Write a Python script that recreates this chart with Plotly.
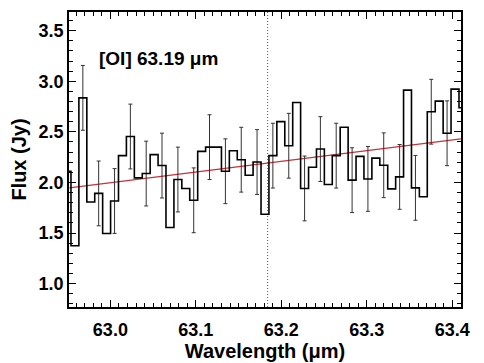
import plotly.graph_objects as go

# Bin centres (micron) of the spectrum
wavelength = [62.9493, 62.9585, 62.9678, 62.9771, 62.9863, 62.9956, 63.0049, 63.0141,
              63.0234, 63.0327, 63.0419, 63.0512, 63.0604, 63.0697, 63.0790, 63.0882,
              63.0975, 63.1068, 63.1160, 63.1253, 63.1346, 63.1438, 63.1531, 63.1623,
              63.1716, 63.1809, 63.1901, 63.1994, 63.2087, 63.2179, 63.2272, 63.2365,
              63.2457, 63.2550, 63.2642, 63.2735, 63.2828, 63.2920, 63.3013, 63.3106,
              63.3198, 63.3291, 63.3384, 63.3476, 63.3569, 63.3661, 63.3754, 63.3847,
              63.3939, 63.4032, 63.4125]
flux = [2.11, 1.375, 2.836, 1.807, 1.892, 1.496, 1.817, 2.265,
        2.454, 2.045, 2.088, 2.275, 2.167, 1.555, 2.029, 1.941,
        1.824, 2.307, 2.349, 2.349, 2.111, 2.314, 2.225, 2.072,
        2.202, 1.686, 2.265, 2.601, 2.363, 2.790, 1.941, 2.150,
        2.330, 1.980, 2.265, 2.545, 2.023, 2.258, 2.035, 2.241,
        2.170, 1.937, 2.055, 2.912, 1.947, 1.859, 2.699, 2.804,
        2.486, 2.922, 2.738]

# Error bars (shown on every other bin)
err_wavelength = [62.9678, 62.9863, 63.0049, 63.0234, 63.0419, 63.0604, 63.0790, 63.0975,
                  63.1160, 63.1346, 63.1531, 63.1716, 63.1901, 63.2087, 63.2272, 63.2457,
                  63.2642, 63.2828, 63.3013, 63.3198, 63.3384, 63.3569, 63.3754, 63.3939]
err_flux = [2.836, 1.892, 1.817, 2.454, 2.088, 2.167, 2.029, 1.824,
            2.349, 2.111, 2.225, 2.202, 2.265, 2.363, 1.941, 2.330,
            2.265, 2.023, 2.035, 2.170, 2.055, 1.947, 2.699, 2.486]
err_size = [0.32] * 24

# Continuum fit
fit_x = [62.952, 63.410]
fit_y = [1.947, 2.431]

line_center = 63.184

FONT = "Liberation Sans"

fig = go.Figure()
fig.add_trace(go.Scatter(x=fit_x, y=fit_y, mode="lines",
                         line=dict(color="#c8323a", width=1.4), showlegend=False))
fig.add_trace(go.Scatter(x=err_wavelength, y=err_flux, mode="markers",
                         marker=dict(size=0.1, color="rgba(0,0,0,0)"),
                         error_y=dict(type="data", array=err_size, visible=True,
                                      color="#333333", thickness=1, width=2),
                         showlegend=False))
fig.add_trace(go.Scatter(x=wavelength, y=flux, mode="lines", line_shape="hvh",
                         line=dict(color="black", width=1.6), showlegend=False))

fig.add_shape(type="line", x0=line_center, x1=line_center, xref="x", yref="paper",
              y0=0, y1=1, line=dict(color="#555555", width=1, dash="1px,2px"))

fig.add_annotation(x=0.071, y=0.842, xref="paper", yref="paper", xanchor="left",
                   yanchor="middle", showarrow=False,
                   text="[OI] 63.19 μm",
                   font=dict(family=FONT, size=19, color="black", weight="bold"))

axis_common = dict(showline=True, linecolor="black", linewidth=1.5, mirror="allticks",
                   ticks="inside", ticklen=7, tickwidth=1, tickcolor="black",
                   showgrid=False, zeroline=False,
                   tickfont=dict(family=FONT, size=18, color="black", weight="bold"))

fig.update_xaxes(range=[62.9516, 63.4102], dtick=0.1, tick0=63.0, tickformat=".1f",
                 ticklabelstandoff=6,
                 minor=dict(dtick=0.01, ticks="inside", ticklen=4, tickcolor="black"),
                 title=dict(text="Wavelength (μm)", standoff=0,
                            font=dict(family=FONT, size=20, color="black", weight="bold")),
                 **axis_common)
fig.update_yaxes(range=[0.77, 3.684], dtick=0.5, tick0=1.0, tickformat=".1f",
                 minor=dict(dtick=0.1, ticks="inside", ticklen=4, tickcolor="black"),
                 title=dict(text="Flux (Jy)", standoff=7,
                            font=dict(family=FONT, size=20, color="black", weight="bold")),
                 **axis_common)

# page body has an 8px margin, so the figure is shrunk to fit the window
fig.update_layout(width=476, height=355, margin=dict(l=61, r=23, t=2, b=56),
                  plot_bgcolor="white", paper_bgcolor="white")

fig.write_html("out.html")
